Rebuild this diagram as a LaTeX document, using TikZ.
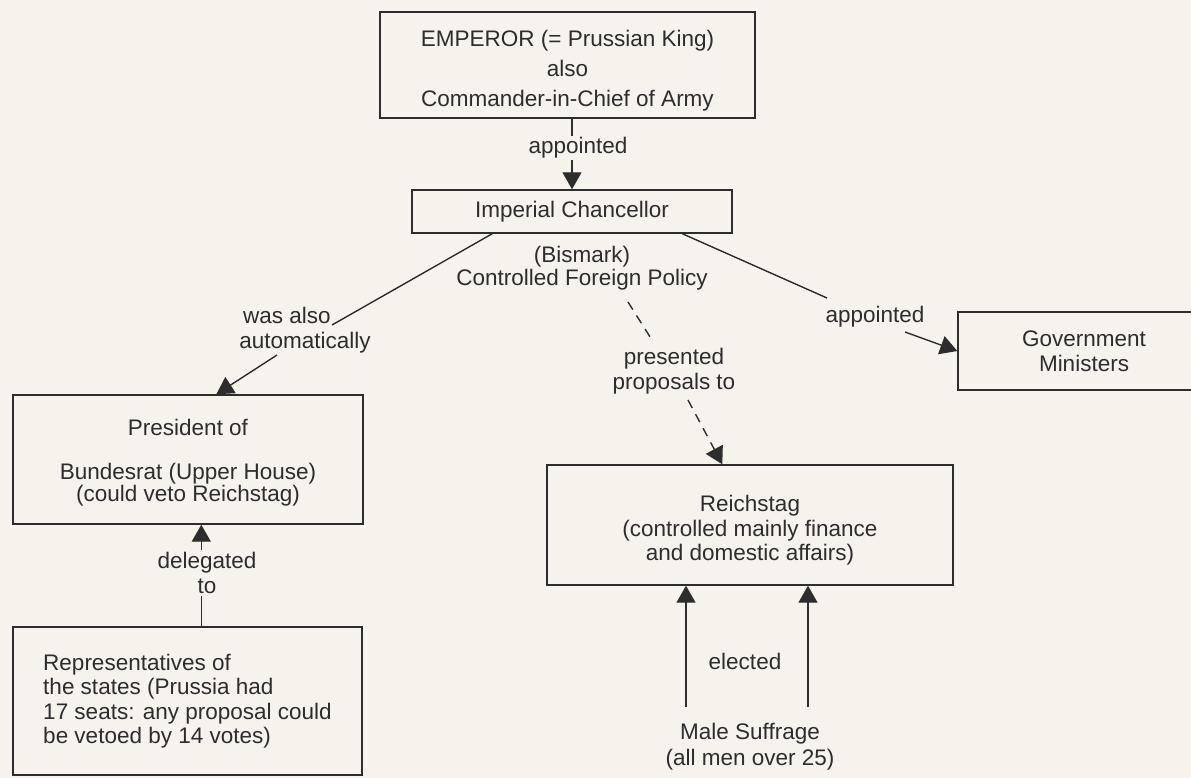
\documentclass[tikz,border=0pt]{standalone}
\usepackage{fontspec}
\setmainfont{Liberation Sans}
\usetikzlibrary{arrows.meta,calc}
\definecolor{paper}{RGB}{246,243,237}
\definecolor{ink}{RGB}{45,45,45}
\tikzset{
  box/.style={draw=ink, line width=1.4pt, inner sep=0pt, align=center, text=ink,
    font=\fontsize{22.5}{25}\selectfont},
  txt/.style={inner sep=1pt, align=center, text=ink, font=\fontsize{22.5}{25}\selectfont},
  lbl/.style={txt, fill=paper, inner sep=2pt},
  ln/.style={draw=ink, line width=1.4pt},
  arr/.style={ln, -{Triangle[length=17pt,width=19pt]}},
  dsh/.style={arr, dash pattern=on 9pt off 7pt}
}
\begin{document}
\begin{tikzpicture}[x=1pt,y=-1pt]
\fill[paper] (0,0) rectangle (1191,778);
\useasboundingbox (0,0) rectangle (1191,778);
\clip (0,0) rectangle (1191,778);

% boxes
\node[box, minimum width=375pt, minimum height=106pt, font=\fontsize{22.5}{30}\selectfont]
  (emp) at (567.5,65) {\mbox{}\\[-2pt]EMPEROR (= Prussian King)\\also\\Commander-in-Chief of Army};
\node[box, minimum width=320pt, minimum height=43pt] (chan) at (572,211.5) {Imperial Chancellor};
\node[txt, font=\fontsize{22.5}{23}\selectfont] (bis) at (582,268) {(Bismark)\\Controlled Foreign Policy};
\node[box, minimum width=350pt, minimum height=129pt, font=\fontsize{22.5}{22}\selectfont]
  (bund) at (188,459.5) {\mbox{}\\[1pt]President of\\[22pt]Bundesrat (Upper House)\\(could veto Reichstag)};
\node[box, minimum width=349pt, minimum height=148pt, align=left, font=\fontsize{22.5}{24.5}\selectfont]
  (rep) at (187.5,701) {Representatives of\\the states (Prussia had\\17 seats: any proposal could\\be vetoed by 14 votes)};
\node[box, minimum width=406pt, minimum height=120pt, font=\fontsize{22.5}{24.5}\selectfont]
  (reich) at (750,525) {\mbox{}\\[2.5pt]Reichstag\\(controlled mainly finance\\and domestic affairs)};
\node[box, minimum width=252pt, minimum height=78pt] (gov) at (1084,351) {Government\\Ministers};
\node[txt, font=\fontsize{22.5}{26}\selectfont] (suff) at (750,747) {Male Suffrage\\(all men over 25)};

% emperor -> chancellor
\draw[arr] (emp.south -| chan.north) -- (chan.north);
\node[lbl] (l1) at (578,148) {appointed};

% chancellor -> bundesrat
\coordinate (a1) at (332,325);
\coordinate (a2) at (277,355);
\draw[ln] ([xshift=81pt]chan.south west) -- (a1);
\draw[arr] (a2) -- ([xshift=204pt]bund.north west);
\node[txt] (l3) at (305,330) {was also\hspace*{36pt}\\automatically};

% chancellor -> ministers
\coordinate (b1) at (827,298);
\coordinate (b2) at (905,332);
\draw[ln] ([xshift=271pt]chan.south west) -- (b1);
\draw[arr] (b2) -- (gov.west);
\node[txt] (l4) at (875,317) {appointed};

% chancellor -> reichstag (dashed)
\coordinate (d0) at (628,302);
\coordinate (d1) at (652,340);
\coordinate (d2) at (688,400);
\draw[ln, dash pattern=on 9pt off 7pt] (d0) -- (d1);
\draw[dsh] (d2) -- ([xshift=176pt]reich.north west);
\node[txt] (l5) at (674,371) {presented\\proposals to};

% representatives -> bundesrat
\draw[arr] ([xshift=189pt]rep.north west) -- ([xshift=189pt]bund.south west);
\node[lbl] (l2) at (207,573) {delegated\\to};

% suffrage -> reichstag
\coordinate (e1) at (686,707);
\coordinate (e2) at (808,707);
\draw[arr] (e1) -- (e1 |- reich.south);
\draw[arr] (e2) -- (e2 |- reich.south);
\node[txt] (l6) at (745,661) {elected};
\end{tikzpicture}
\end{document}
